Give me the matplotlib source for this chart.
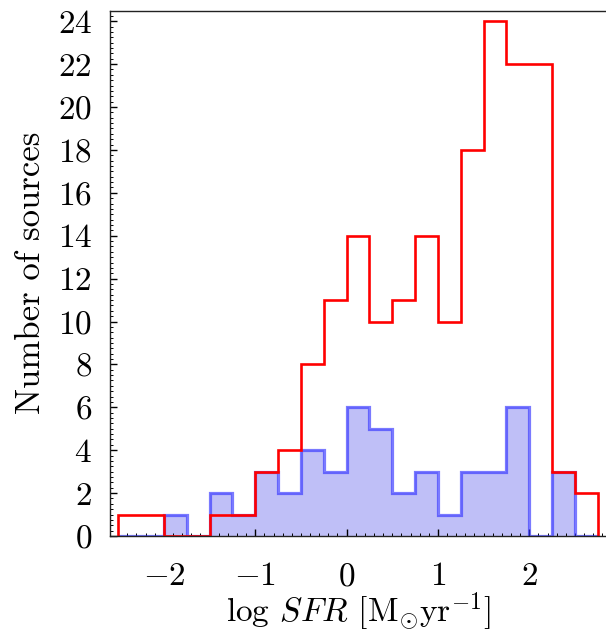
import numpy as np
import matplotlib
matplotlib.use("Agg")
import matplotlib.pyplot as plt
from matplotlib.ticker import MultipleLocator

plt.rcParams['font.family'] = 'serif'
plt.rcParams['font.serif'] = ['cmr10']
plt.rcParams['mathtext.fontset'] = 'cm'
plt.rcParams['axes.formatter.use_mathtext'] = True

# bin edges (log SFR), width 0.25
bin_edges = [-2.5, -2.25, -2.0, -1.75, -1.5, -1.25, -1.0, -0.75, -0.5, -0.25,
             0.0, 0.25, 0.5, 0.75, 1.0, 1.25, 1.5, 1.75, 2.0, 2.25, 2.5, 2.75]
all_counts = [1, 1, 0, 0, 1, 1, 3, 4, 8, 11, 14, 10, 11, 14, 10, 18, 24, 22, 22, 3, 2]
sub_counts = [0, 0, 1, 0, 2, 1, 3, 2, 4, 3, 6, 5, 2, 3, 1, 3, 3, 6, 0, 3, 0]
x_ticks = [-2, -1, 0, 1, 2]
y_ticks = list(range(0, 25, 2))

fig = plt.figure(figsize=(6.06, 6.35), dpi=100)
ax = fig.add_axes([110/606, 1-536/635, 1-110/606, (536-10.5)/635])

ax.stairs(sub_counts, bin_edges, fill=True, color='#bfbff7', zorder=1)
ax.stairs(sub_counts, bin_edges, fill=False, color=(0.2, 0.2, 1.0, 0.65),
          linewidth=2.3, zorder=2)
ax.stairs(all_counts, bin_edges, fill=False, color='#ff0000', linewidth=1.9, zorder=3)

ax.set_xlim(-2.59, 2.84)
ax.set_ylim(0, 24.5)
ax.set_xticks(x_ticks)
ax.set_yticks(y_ticks)
ax.xaxis.set_minor_locator(MultipleLocator(0.1))
ax.yaxis.set_minor_locator(MultipleLocator(0.25))

ax.spines['right'].set_visible(False)
for s in ['left', 'bottom', 'top']:
    ax.spines[s].set_linewidth(1.0)
    ax.spines[s].set_color('#222222')
    ax.spines[s].set_zorder(4)

ax.tick_params(which='both', direction='in', top=False, right=False)
ax.tick_params(which='major', length=5, width=1.0, labelsize=24)
ax.tick_params(axis='x', which='major', pad=19)
ax.tick_params(axis='y', which='major', pad=13)
ax.tick_params(which='minor', length=2.5, width=0.7)

ax.set_xlabel(r'log $\mathit{SFR}$ [M$_{\odot}$yr$^{-1}$]', fontsize=24)
ax.xaxis.set_label_coords(0.5, -0.104)
ax.set_ylabel('Number of sources', fontsize=25, labelpad=8)

fig.savefig('out.png', dpi=100)
